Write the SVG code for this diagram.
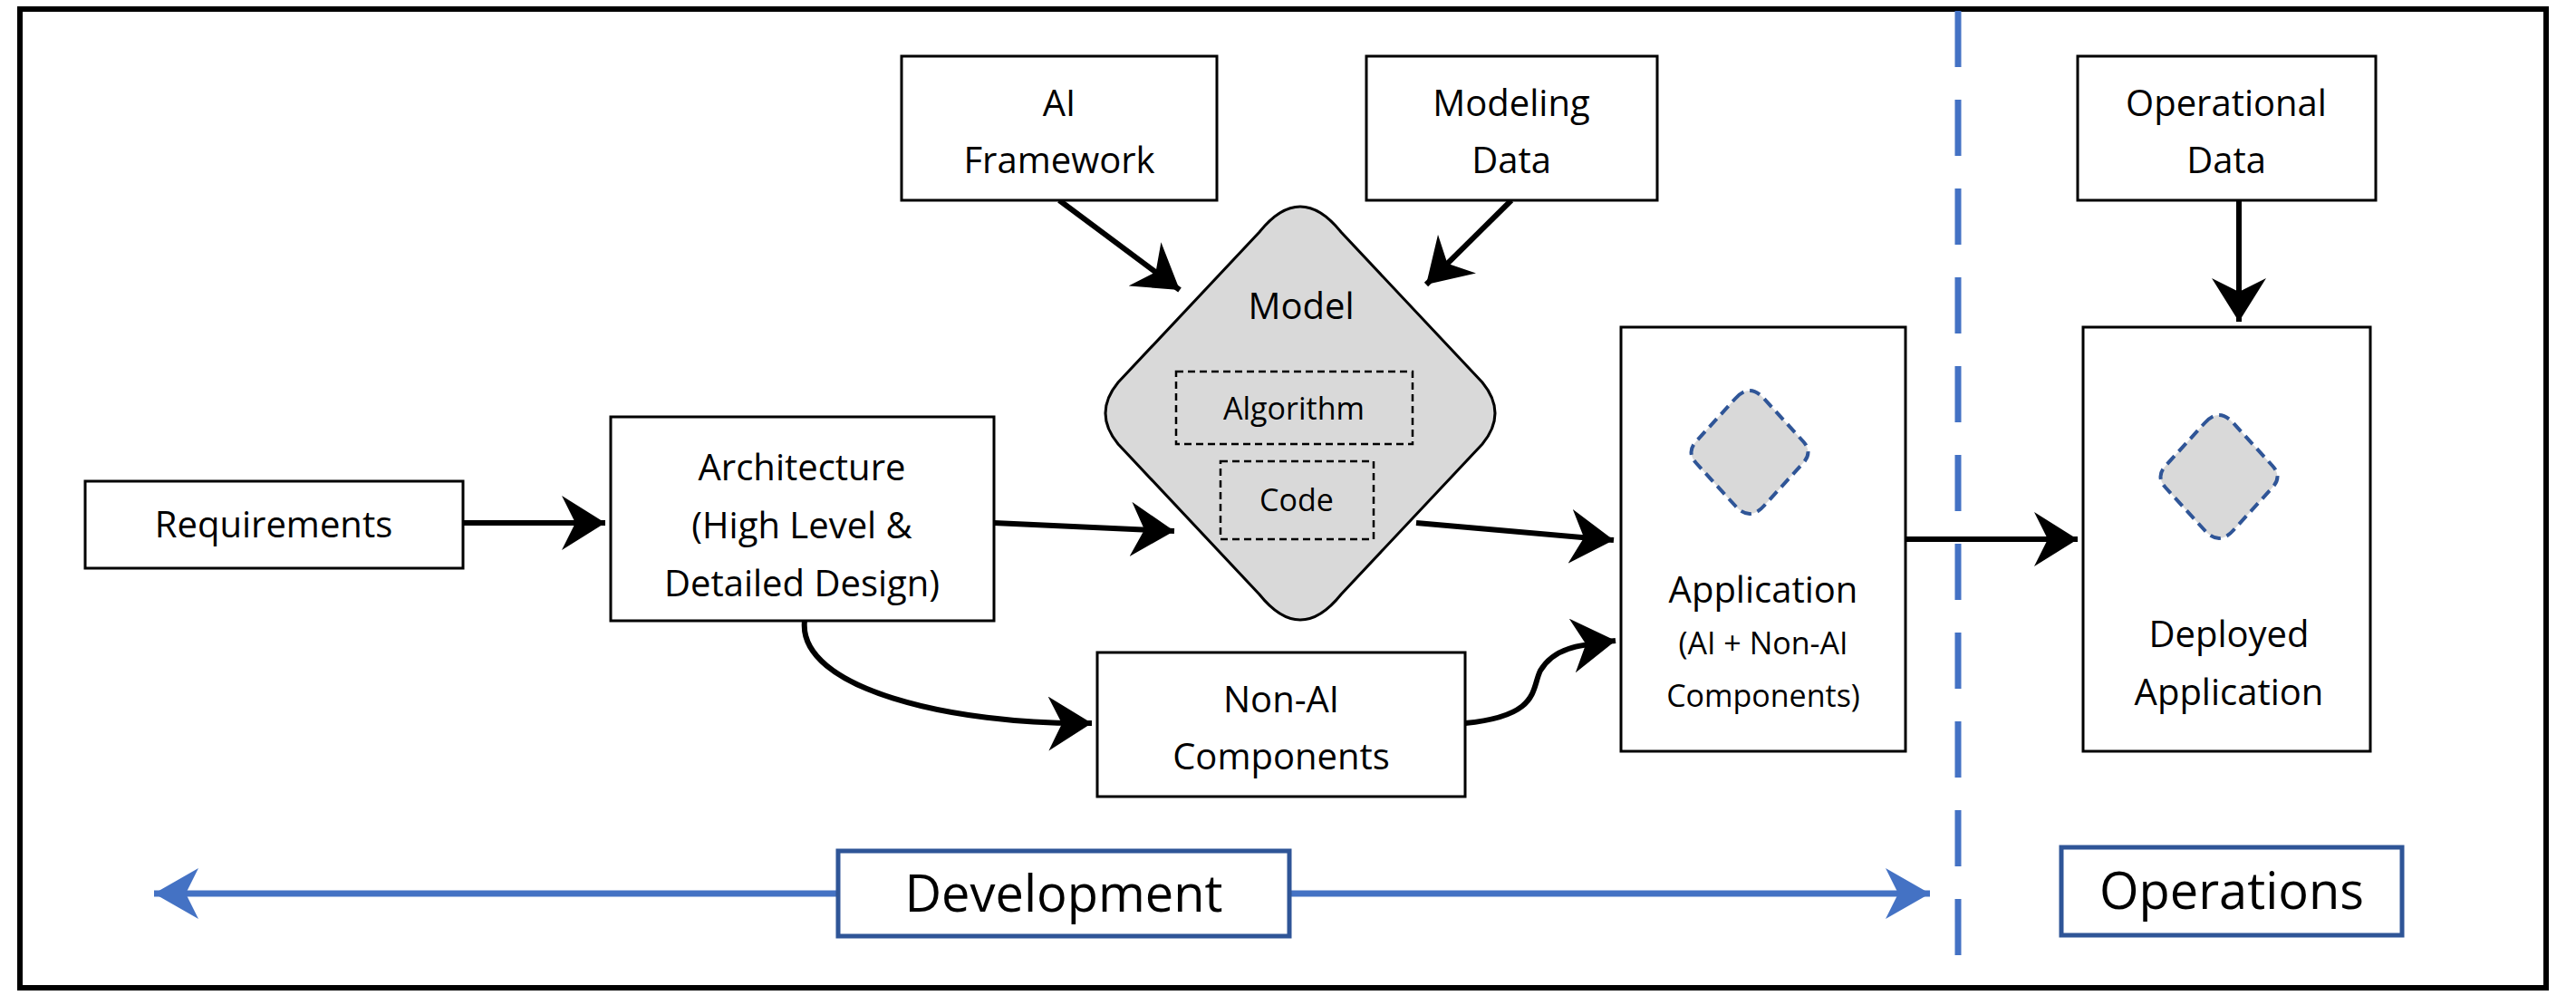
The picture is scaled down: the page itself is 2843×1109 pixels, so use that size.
<svg xmlns="http://www.w3.org/2000/svg" width="2843" height="1109" viewBox="0 0 2843 1109">
<style>
.box{fill:#fff;stroke:#000;stroke-width:3}
.t{font-family:"Open Sans","Liberation Sans",sans-serif;font-size:40px;fill:#000;text-anchor:middle}
.s{font-size:34px}
.dash{fill:none;stroke:#000;stroke-width:2.5;stroke-dasharray:8 5}
.c{fill:none;stroke:#000;stroke-width:6;marker-end:url(#ah)}
.b{fill:#fff;stroke:#2F5597;stroke-width:5}
.bt{font-family:"Open Sans","Liberation Sans",sans-serif;font-size:56px;fill:#000;text-anchor:middle}
.md{fill:#d9d9d9;stroke:#2F5597;stroke-width:4;stroke-dasharray:12 7;stroke-linejoin:round}
</style>
<defs>
<marker id="ah" markerWidth="10" markerHeight="10" refX="8" refY="5" orient="auto" markerUnits="strokeWidth"><path d="M0,0 L8,5 L0,10 L2.5,5 Z" fill="#000"/></marker>
<marker id="bh" markerWidth="8" markerHeight="8" refX="7" refY="4" orient="auto" markerUnits="strokeWidth"><path d="M0,0 L7,4 L0,8 L2,4 Z" fill="#4472C4"/></marker>
</defs>
<rect x="0" y="0" width="2843" height="1109" fill="#fff"/>
<rect x="22" y="10" width="2788" height="1080" fill="none" stroke="#000" stroke-width="6"/>
<line x1="2161" y1="12" x2="2161" y2="1088" stroke="#4472C4" stroke-width="7" stroke-dasharray="62 36"/>
<g id="connectors">
<line class="c" x1="511" y1="577" x2="668" y2="577"/>
<line class="c" x1="1169" y1="221" x2="1302" y2="320"/>
<line class="c" x1="1668" y1="221" x2="1574" y2="314"/>
<line class="c" x1="1097" y1="577" x2="1296" y2="586"/>
<line class="c" x1="1563" y1="577" x2="1781" y2="596"/>
<path class="c" d="M888,685 C880,760 1050,800 1205,798"/>
<path class="c" d="M1617,798 C1700,790 1690,760 1700,740 C1715,715 1740,712 1783,707"/>
<line class="c" x1="2103" y1="595" x2="2293" y2="595"/>
<line class="c" x1="2471" y1="221" x2="2471" y2="355"/>
<line x1="925" y1="986" x2="170" y2="986" stroke="#4472C4" stroke-width="7" marker-end="url(#bh)"/>
<line x1="1423" y1="986" x2="2130" y2="986" stroke="#4472C4" stroke-width="7" marker-end="url(#bh)"/>
</g>
<g id="requirements"><rect class="box" x="94" y="531" width="417" height="96"/><text class="t" x="302" y="593">Requirements</text></g>
<g id="architecture"><rect class="box" x="674" y="460" width="423" height="225"/><text class="t" x="885" y="530">Architecture</text><text class="t" x="885" y="594">(High Level &amp;</text><text class="t" x="885" y="658">Detailed Design)</text></g>
<g id="ai-framework"><rect class="box" x="995" y="62" width="348" height="159"/><text class="t" x="1169" y="128">AI</text><text class="t" x="1169" y="191">Framework</text></g>
<g id="modeling-data"><rect class="box" x="1508" y="62" width="321" height="159"/><text class="t" x="1668" y="128">Modeling</text><text class="t" x="1668" y="191">Data</text></g>
<g id="model">
<path d="M1390,256 Q1435,200 1480,256 L1636,422 Q1664,456 1636,490 L1480,656 Q1435,712 1390,656 L1234,490 Q1206,456 1234,422 Z" fill="#d9d9d9" stroke="#000" stroke-width="3"/>
<text class="t" x="1436" y="352">Model</text>
<rect class="dash" x="1298" y="410" width="261" height="80"/><text class="t s" x="1428" y="463">Algorithm</text>
<rect class="dash" x="1347" y="509" width="169" height="86"/><text class="t s" x="1431" y="564">Code</text>
</g>
<g id="non-ai"><rect class="box" x="1211" y="720" width="406" height="159"/><text class="t" x="1414" y="786">Non-AI</text><text class="t" x="1414" y="849">Components</text></g>
<g id="application"><rect class="box" x="1789" y="361" width="314" height="468"/>
<path class="md" d="M1915,440 Q1931,422 1947,440 L1990,487 Q2001,499 1990,511 L1947,558 Q1931,576 1915,558 L1872,511 Q1861,499 1872,487 Z"/>
<text class="t" x="1946" y="665">Application</text><text class="t s" x="1946" y="722">(AI + Non-AI</text><text class="t s" x="1946" y="780">Components)</text></g>
<g id="operational-data"><rect class="box" x="2293" y="62" width="329" height="159"/><text class="t" x="2457" y="128">Operational</text><text class="t" x="2457" y="191">Data</text></g>
<g id="deployed"><rect class="box" x="2299" y="361" width="317" height="468"/>
<path class="md" d="M2433,467 Q2449,449 2465,467 L2508,514 Q2519,526 2508,538 L2465,585 Q2449,603 2433,585 L2390,538 Q2379,526 2390,514 Z"/>
<text class="t" x="2460" y="714">Deployed</text><text class="t" x="2460" y="778">Application</text></g>
<g id="development"><rect class="b" x="925" y="939" width="498" height="94"/><text class="bt" x="1174" y="1006">Development</text></g>
<g id="operations"><rect class="b" x="2275" y="935" width="376" height="97"/><text class="bt" x="2463" y="1003">Operations</text></g>
</svg>
